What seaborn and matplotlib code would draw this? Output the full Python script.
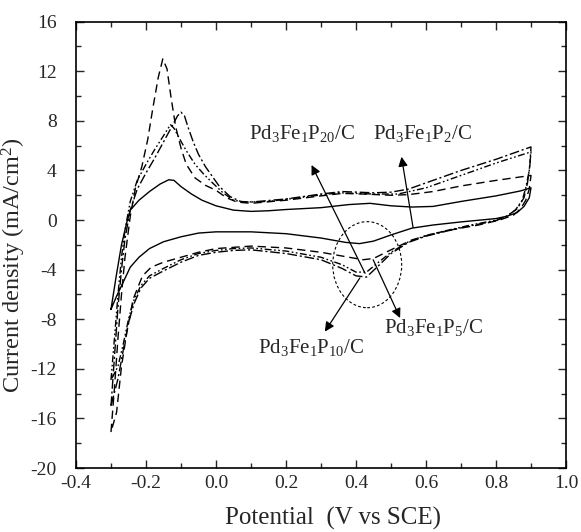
import numpy as np
import pandas as pd
import matplotlib
matplotlib.use("Agg")
import matplotlib.pyplot as plt
import seaborn as sns
from matplotlib.patches import Ellipse
from matplotlib.ticker import MultipleLocator

# ---- data ----
# Solid curve (Pd3Fe1P2/C)
p2_x = [-0.300, -0.285, -0.270, -0.255, -0.245, -0.220, -0.190, -0.160, -0.135, -0.120, -0.100, -0.070, -0.040, 0.000,
        0.050, 0.100, 0.150, 0.200, 0.300, 0.380, 0.440, 0.500, 0.560, 0.620, 0.700, 0.800, 0.870, 0.900,
        0.895, 0.880, 0.860, 0.830, 0.800, 0.700, 0.620, 0.560, 0.500, 0.450, 0.410, 0.370, 0.300, 0.200,
        0.100, 0.000, -0.050, -0.100, -0.150, -0.190, -0.220, -0.245, -0.265, -0.285, -0.300]
p2_y = [-7.2, -4.5, -2.0, -0.2, 0.8, 1.6, 2.3, 2.9, 3.25, 3.2, 2.7, 2.1, 1.6, 1.15,
        0.8, 0.7, 0.75, 0.85, 1.0, 1.25, 1.35, 1.15, 1.05, 1.1, 1.5, 1.95, 2.35, 2.6,
        1.8, 1.1, 0.6, 0.3, 0.12, -0.15, -0.4, -0.65, -1.2, -1.7, -1.9, -1.8, -1.45, -1.1,
        -0.95, -0.95, -1.05, -1.35, -1.75, -2.3, -3.0, -3.8, -5.0, -6.2, -7.2]

# Dashed curve (Pd3Fe1P5/C)
p5_x = [-0.300, -0.290, -0.280, -0.270, -0.260, -0.245, -0.230, -0.212, -0.195, -0.180, -0.165, -0.152, -0.140,
        -0.128, -0.115, -0.100, -0.085, -0.060, -0.030, 0.000, 0.030, 0.060, 0.100, 0.200, 0.300, 0.360, 0.420,
        0.500, 0.550, 0.620, 0.700, 0.800, 0.900,
        0.895, 0.885, 0.870, 0.850, 0.810, 0.750, 0.680, 0.620, 0.560, 0.500, 0.450, 0.420, 0.380, 0.300,
        0.200, 0.100, 0.000, -0.050, -0.100, -0.150, -0.185, -0.210, -0.237, -0.255, -0.270, -0.284, -0.300]
p5_y = [-17.1, -13.5, -9.5, -6.0, -3.0, 0.3, 2.6, 4.3, 6.5, 9.1, 11.5, 13.0, 12.2,
        9.8, 7.5, 5.8, 4.5, 3.4, 2.8, 2.4, 1.8, 1.45, 1.35, 1.6, 1.95, 2.15, 2.1,
        2.0, 2.05, 2.3, 2.75, 3.2, 3.6,
        2.5, 1.6, 0.9, 0.4, 0.0, -0.4, -0.75, -1.1, -1.6, -2.4, -3.1, -3.2, -3.0, -2.6,
        -2.25, -2.1, -2.3, -2.6, -3.0, -3.4, -3.8, -4.5, -6.4, -9.1, -11.8, -15.5, -17.1]

# Dash-dot curve (Pd3Fe1P10/C)
p10_x = [-0.300, -0.290, -0.280, -0.270, -0.260, -0.245, -0.225, -0.200, -0.175, -0.150, -0.125, -0.110, -0.100,
         -0.090, -0.080, -0.065, -0.050, -0.030, -0.010, 0.010, 0.040, 0.070, 0.100, 0.200, 0.300, 0.360, 0.450,
         0.500, 0.550, 0.620, 0.700, 0.800, 0.900,
         0.897, 0.890, 0.880, 0.860, 0.830, 0.800, 0.720, 0.650, 0.600, 0.550, 0.500, 0.460, 0.430, 0.400,
         0.360, 0.300, 0.200, 0.100, 0.050, 0.000, -0.050, -0.100, -0.150, -0.190, -0.215, -0.235, -0.250,
         -0.265, -0.280, -0.300]
p10_y = [-15.0, -11.0, -7.0, -4.0, -1.5, 0.8, 2.5, 3.8, 5.0, 6.3, 7.6, 8.4, 8.7,
         8.4, 7.5, 6.3, 5.3, 4.3, 3.5, 2.7, 1.9, 1.5, 1.45, 1.7, 2.1, 2.3, 2.2,
         2.25, 2.5, 3.2, 4.0, 4.9, 5.9,
         4.5, 3.0, 1.8, 0.9, 0.3, -0.05, -0.5, -0.95, -1.3, -1.8, -2.7, -3.8, -4.6, -4.5,
         -3.9, -3.2, -2.7, -2.4, -2.45, -2.6, -2.85, -3.4, -4.1, -4.7, -5.5, -6.8, -8.3,
         -10.5, -12.8, -15.0]

# Dash-dot-dot curve (Pd3Fe1P20/C)
p20_x = [-0.300, -0.290, -0.280, -0.270, -0.260, -0.245, -0.225, -0.200, -0.175, -0.150, -0.130, -0.120, -0.105,
         -0.085, -0.060, -0.035, -0.010, 0.020, 0.050, 0.080, 0.150, 0.250, 0.350, 0.450, 0.520, 0.600, 0.700,
         0.800, 0.900,
         0.895, 0.885, 0.875, 0.855, 0.830, 0.800, 0.720, 0.650, 0.600, 0.550, 0.500, 0.460, 0.430, 0.400,
         0.360, 0.300, 0.200, 0.100, 0.050, 0.000, -0.050, -0.100, -0.150, -0.190, -0.215, -0.235, -0.250,
         -0.265, -0.280, -0.300]
p20_y = [-12.9, -9.5, -6.0, -3.0, -0.8, 1.5, 3.2, 4.5, 5.7, 6.8, 7.7, 7.4, 6.6,
         5.6, 4.5, 3.7, 3.0, 2.2, 1.6, 1.45, 1.5, 1.85, 2.2, 2.1, 2.1, 2.6, 3.6,
         4.6, 5.5,
         4.0, 2.6, 1.6, 0.8, 0.3, 0.0, -0.45, -0.9, -1.25, -1.75, -2.6, -3.5, -4.2, -4.2,
         -3.6, -3.0, -2.5, -2.25, -2.3, -2.45, -2.7, -3.2, -3.9, -4.5, -5.3, -6.5, -8.0,
         -10.0, -11.8, -12.9]

labels = ["Pd$_3$Fe$_1$P$_{20}$/C", "Pd$_3$Fe$_1$P$_2$/C",
          "Pd$_3$Fe$_1$P$_{10}$/C", "Pd$_3$Fe$_1$P$_5$/C"]

x_ticks = [-0.4, -0.2, 0.0, 0.2, 0.4, 0.6, 0.8, 1.0]
y_ticks = [-20, -16, -12, -8, -4, 0, 4, 8, 12, 16]

# ---- style ----
sns.set_style("ticks")
plt.rcParams["font.family"] = ["Liberation Serif", "DejaVu Serif"]
plt.rcParams["mathtext.fontset"] = "custom"
plt.rcParams["mathtext.rm"] = "Liberation Serif"
plt.rcParams["mathtext.it"] = "Liberation Serif:italic"
plt.rcParams["mathtext.bf"] = "Liberation Serif:bold"

fig = plt.figure(figsize=(5.81, 5.32), dpi=100)
ax = fig.add_axes([0.1308, 0.1203, 0.8434, 0.8389])

curves = [
    (p2_x, p2_y, "-"),
    (p5_x, p5_y, (0, (6, 3.5))),
    (p10_x, p10_y, (0, (7, 2, 1.5, 2))),
    (p20_x, p20_y, (0, (5, 1.8, 1.2, 1.8, 1.2, 1.8))),
]
for xs, ys, ls in curves:
    df = pd.DataFrame({"x": xs, "y": ys})
    sns.lineplot(data=df, x="x", y="y", sort=False, estimator=None, ax=ax,
                 color="black", linewidth=1.0, linestyle=ls)

ax.set_xlim(-0.4, 1.0)
ax.set_ylim(-20, 16)
ax.set_xticks(x_ticks)
ax.set_yticks(y_ticks)
ax.set_xticklabels([f"{v:.1f}" for v in x_ticks])
ax.set_yticklabels([f"{v:d}" for v in y_ticks])
ax.xaxis.set_minor_locator(MultipleLocator(0.1))
ax.yaxis.set_minor_locator(MultipleLocator(2))
ax.tick_params(which="both", direction="in", top=True, right=True, labelsize=14, width=1.0)
ax.tick_params(which="major", length=6)
ax.tick_params(which="minor", length=3.5)
ax.tick_params(axis="y", which="both", pad=14)
ax.tick_params(axis="x", which="both", pad=5)
for s in ax.spines.values():
    s.set_linewidth(1.2)
    s.set_color("black")

ax.set_xlabel("Potential  (V vs SCE)", fontsize=18)
ax.set_ylabel("Current density (mA/cm$^2$)", fontsize=17.5)
ax.xaxis.set_label_coords(0.524, -0.088)
ax.yaxis.set_label_coords(-0.098, 0.455)

# ellipse marking the reduction peaks
ax.add_patch(Ellipse((0.432, -3.6), 0.197, 6.94, fill=False, edgecolor="black",
                     linewidth=0.8, linestyle=(0, (2.5, 2))))

# annotations
ann = [
    (labels[0], (0.426, -4.3), (0.245, 7.0)),
    (labels[1], (0.563, -0.6), (0.589, 7.0)),
    (labels[2], (0.411, -4.67), (0.271, -10.3)),
    (labels[3], (0.449, -3.2), (0.621, -8.7)),
]
heads = [(0.273, 4.44), (0.53, 5.1), (0.311, -9.0), (0.526, -7.9)]
for (txt, tail, tpos), head in zip(ann, heads):
    ax.annotate("", xy=head, xytext=tail,
                arrowprops=dict(arrowstyle="-|>", color="black", lw=0.9,
                                mutation_scale=14, shrinkA=0, shrinkB=0))
    ax.text(tpos[0], tpos[1], txt, ha="center", va="center", fontsize=15)

fig.savefig("out.png", dpi=100)
